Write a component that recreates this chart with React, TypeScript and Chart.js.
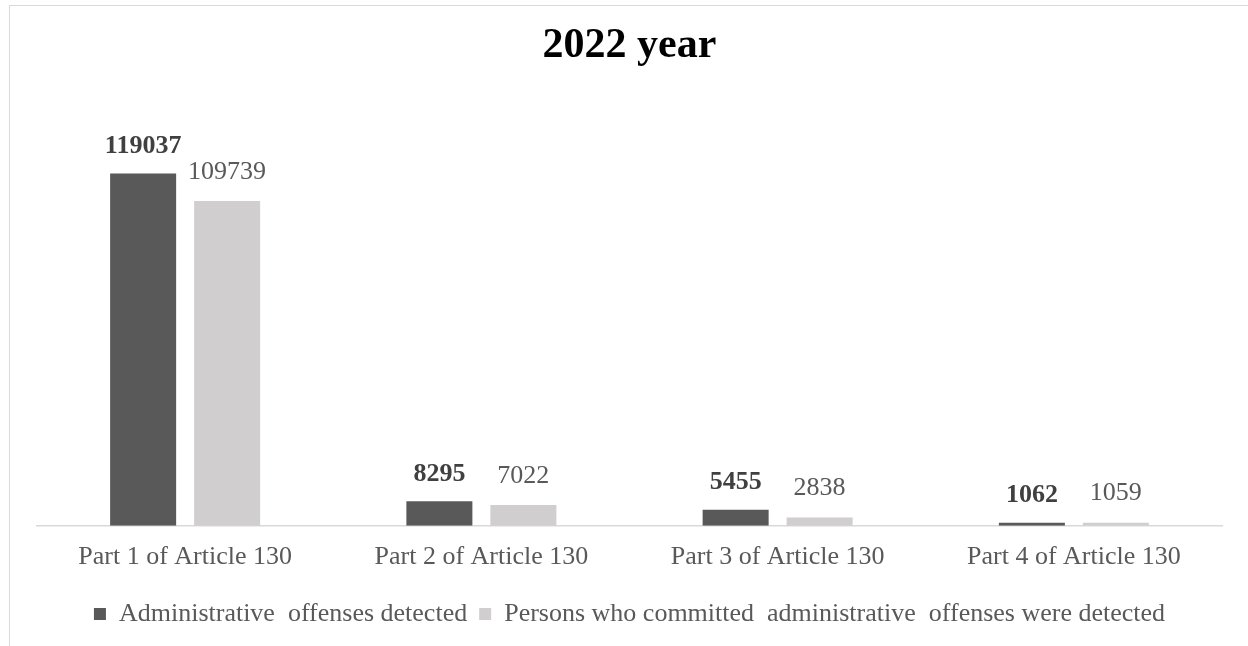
import React, { useEffect, useRef } from "react";
import { Chart, registerables } from "chart.js";

Chart.register(...registerables);

const categories = ["Part 1 of Article 130", "Part 2 of Article 130", "Part 3 of Article 130", "Part 4 of Article 130"];
const offensesDetected = [119037, 8295, 5455, 1062];
const personsDetected = [109739, 7022, 2838, 1059];
const seriesNames = ["Administrative  offenses detected", "Persons who committed  administrative  offenses were detected"];
const titleText = "2022 year";

const FONT = "'Liberation Serif', 'Times New Roman', serif";

const labelPlugin = {
  id: "barLabels",
  afterDatasetsDraw(chart: any) {
    const ctx = chart.ctx;
    ctx.save();
    ctx.textAlign = "center";
    ctx.textBaseline = "middle";
    chart.data.datasets.forEach((ds: any, di: number) => {
      const meta = chart.getDatasetMeta(di);
      ctx.font = (di === 0 ? "bold " : "") + "26px " + FONT;
      ctx.fillStyle = di === 0 ? "#404040" : "#595959";
      meta.data.forEach((el: any, i: number) => {
        ctx.fillText(String(ds.data[i]), el.x, el.y - (di === 0 ? 27 : 29));
      });
    });
    ctx.restore();
  },
};

export default function App() {
  const ref = useRef<HTMLCanvasElement>(null);
  useEffect(() => {
    document.body.style.margin = "0";
    const chart = new Chart(ref.current!, {
      type: "bar",
      data: {
        labels: categories,
        datasets: [
          { label: seriesNames[0], data: offensesDetected, backgroundColor: "#595959", categoryPercentage: 0.567, barPercentage: 0.786 },
          { label: seriesNames[1], data: personsDetected, backgroundColor: "#d0cece", categoryPercentage: 0.567, barPercentage: 0.786 },
        ],
      },
      options: {
        animation: false,
        responsive: false,
        maintainAspectRatio: false,
        layout: { padding: { left: 37, right: 26, top: 0, bottom: 9 } },
        scales: {
          x: {
            grid: { display: false, drawTicks: false },
            border: { display: true, color: "#d9d9d9", width: 1.5 },
            ticks: { color: "#595959", font: { family: FONT, size: 26 }, padding: 16 },
          },
          y: { display: false, min: 0, max: 140000 },
        },
        plugins: {
          title: {
            display: true,
            text: titleText,
            color: "#000000",
            font: { family: FONT, size: 42, weight: "bold" },
            padding: { top: 21, bottom: 40 },
          },
          legend: {
            position: "bottom",
            labels: {
              color: "#595959",
              font: { family: FONT, size: 26 },
              boxWidth: 12,
              boxHeight: 12,
              padding: 12,
            },
          },
          tooltip: { enabled: false },
        },
      },
      plugins: [labelPlugin],
    });
    return () => chart.destroy();
  }, []);
  return (
    <div style={{ position: "absolute", left: 0, top: 0, width: 1248, height: 646, background: "#fff" }}>
      <div style={{ position: "absolute", left: 9, top: 5, width: 1260, height: 660, border: "1px solid #d9d9d9" }} />
      <canvas ref={ref} width={1248} height={646} style={{ position: "absolute", left: 0, top: 0 }} />
    </div>
  );
}
